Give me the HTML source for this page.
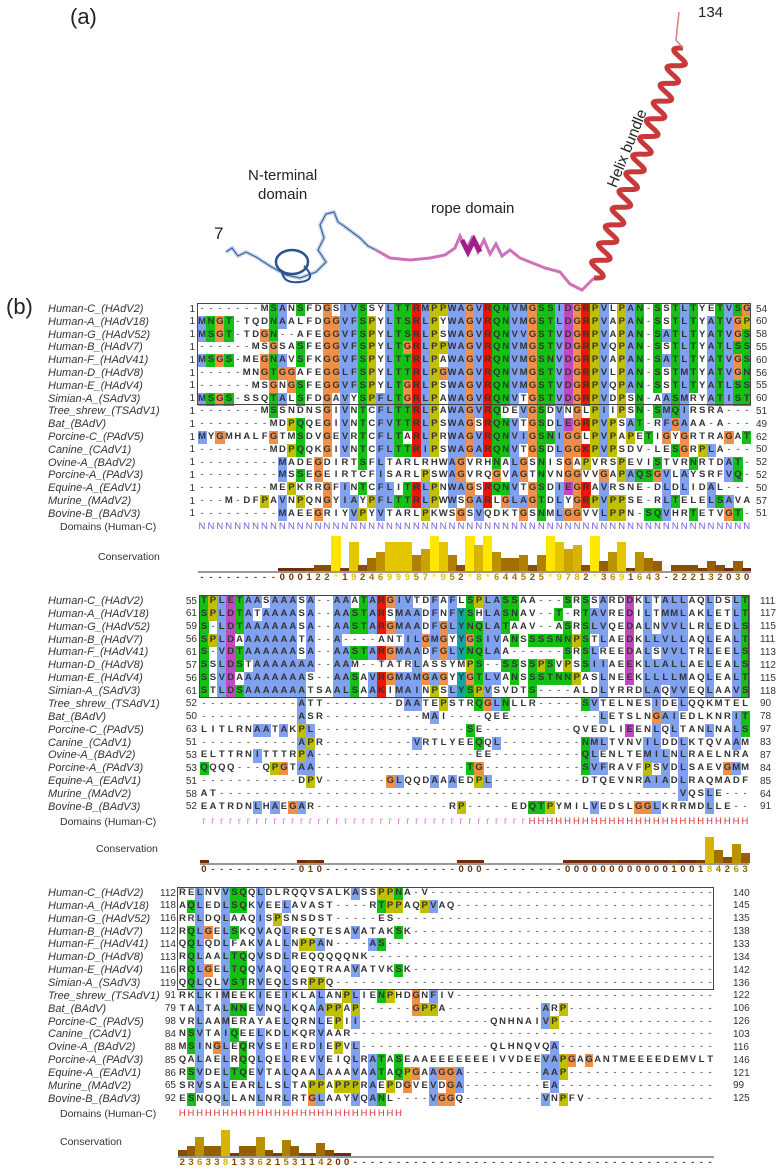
<!DOCTYPE html>
<html><head><meta charset="utf-8">
<style>
html,body{margin:0;padding:0;background:#fff;}
#root{position:relative;width:782px;height:1172px;overflow:hidden;font-family:"Liberation Sans",sans-serif;color:#333;}
.t{position:absolute;white-space:nowrap;}
.nm{font-style:italic;font-size:11px;line-height:12px;}
.num{font-size:10px;line-height:12px;}
.cell{position:absolute;text-align:center;font-size:9.5px;font-weight:bold;color:#333;}
.lbl{font-size:10.5px;}
</style></head><body>
<div id="root">
<div class="t" style="left:70px;top:4px;font-size:22px;color:#222">(a)</div>
<div class="t" style="left:6px;top:294px;font-size:22px;color:#222">(b)</div>
<svg id="struct" width="782" height="300" style="position:absolute;left:0;top:0">
<path d="M226,252 L232,248 L238,256 L246,252 L256,257 L270,266 L286,275 L300,278 L316,272 L326,262 L318,250 L324,238 L320,225 L326,214 L334,212 L338,222 L344,226 L352,232 L360,238 L368,246 L376,250" fill="none" stroke="#c8d6ea" stroke-width="4"/>
<path d="M226,252 L232,248 L238,256 L246,252 L256,257 L270,266 L286,275 L300,278 L316,272 L326,262 L318,250 L324,238 L320,225 L326,214 L334,212 L338,222 L344,226 L352,232 L360,238 L368,246 L376,250" fill="none" stroke="#3a64a0" stroke-width="1.2"/>
<ellipse cx="292" cy="262" rx="16" ry="12" fill="none" stroke="#2a5090" stroke-width="2.5"/>
<path d="M304,266 Q318,280 300,282 Q282,284 282,270" fill="none" stroke="#2a5090" stroke-width="2"/>
<path d="M376,250 L390,258 L410,260 L430,258 L445,255 L455,248 L460,236 L466,250 L472,238 L478,252 L484,240 L490,254 L496,244 L502,256 L510,250 L520,258 L530,262 L545,268 L560,272 L570,284 L582,290 L594,278" fill="none" stroke="#d070b8" stroke-width="3"/>
<path d="M462,240 L468,252 L474,240 L480,252" fill="none" stroke="#a0208a" stroke-width="5"/>
<path id="helix" fill="none" stroke="#c83a3a" stroke-width="5"/>
<path d="M683,48 L676,40 L679,12" fill="none" stroke="#d88080" stroke-width="1.5"/>
</svg>
<div class="t" style="left:214px;top:224px;font-size:17px;color:#222">7</div>
<div class="t" style="left:248px;top:166px;font-size:15px;color:#222;text-align:center;line-height:19px">N-terminal<br>domain</div>
<div class="t" style="left:431px;top:200px;font-size:15px;color:#222">rope domain</div>
<div class="t" style="left:586px;top:140px;font-size:15px;color:#222;transform:rotate(-68deg);transform-origin:50% 50%">Helix bundle</div>
<div class="t" style="left:698px;top:4px;font-size:15px;color:#222">134</div>
</div>
<script>
const names=["Human-C_(HAdV2)","Human-A_(HAdV18)","Human-G_(HAdV52)","Human-B_(HAdV7)","Human-F_(HAdV41)","Human-D_(HAdV8)","Human-E_(HAdV4)","Simian-A_(SAdV3)","Tree_shrew_(TSAdV1)","Bat_(BAdV)","Porcine-C_(PAdV5)","Canine_(CAdV1)","Ovine-A_(BAdV2)","Porcine-A_(PAdV3)","Equine-A_(EAdV1)","Murine_(MAdV2)","Bovine-B_(BAdV3)"];
const seq1=["-------MSANSFDGSIVSSYLTTRMPPWAGVRQNVMGSSIDGRPVLPAN-SSTLTYETVSG","MNGT-TQDNAALFDGGVFSPYLTSRLPYWAGVRQNVMGSTLDGRPVAPAN-SSTLTYATVGP","MSGT-TDGN--AFEGGVFSPYLTSRLPSWAGVRQNVVGSTVDGRPVAPAN-SATLTYATVGS","------MSGSASFEGGVFSPYLTGRLPPWAGVRQNVMGSTVDGRPVQPAN-SSTLTYATLSS","MSGS-MEGNAVSFKGGVFSPYLTTRLPAWAGVRQNVMGSNVDGRPVAPAN-SATLTYATVGS","-----MNGTGGAFEGGLFSPYLTTRLPGWAGVRQNVMGSTVDGRPVLPAN-SSTMTYATVGN","------MSGNGSFEGGVFSPYLTGRLPSWAGVRQNVMGSTVDGRPVQPAN-SSTLTYATLSS","MSGS-SSQTALSFDGAVYSPFLTGRLPAWAGVRQNVTGSTVDGRPVDPSN-AASMRYATIST","-------MSSNDNSGIVNTCFLTTRLPAWAGVRQDEVGSDVNGLPIIPSN-SMQIRSRA---","--------MDPQQEGIVNTCFVTTRLPSWAGSRQNVTGSDLEGRPVPSAT-RFGAAA-A---","MYGMHALFGTMSDVGEVRTCFLTARLPRWAGVRQNVIGSNIGGLPVPAPETIGYGRTRAGAT","--------MDPQQKGIVNTCFLTTRIPSWAGARQNVTGSDLGGKPVPSDV-LESGRPLA---","---------MADEGDIRTSFLTARLRHWAGVRHNALGSNISGAPVRSPEVISTVRNRTDAT","---------MSSEGEIRTCFISARLPSWAGVRQGVAGTNVNGGVVGAPAQSGVLAYSRFVQ","--------MEPKRRGFINTCFLITRLPNWAGSRQNVTGSDIEGRAVRSNE-DLDLIDAL---","---M-DFPAVNPQNGYIAYPFLTTRLPWWSGARLGLAGTDLYGRPVPPSE-RLTELELSAVA","---------MAEEGRIYVPYVTARLPKWSGSVQDKTGSNMLGGVVLPPN-SQVHRTETVGT"];
const seq2=["TPLETAASAAASA--AAATARGIVTDFAFLSPLASSAA---SRSSARDDKLTALLAQLDSLT","SPLDTATAAAASA--AASTARSMAADFNFYSHLASNAV--T-RTAVREDILTMMLAKLETLT","S-LDTAAAAAASA--AASTARGMAADFGLYNQLATAAV--ASRSLVQEDALNVVLLRLEDLS","SPLDAAAAAAATA--A----ANTILGMGYYGSIVANSSSSNNPSTLAEDKLLVLLAQLEALT","S-VDTAAAAAASA--AASTARGMAADFGLYNQLAA------SRSLREEDALSVVLTRLEELS","SSLDSTAAAAAAA--AAM--TATRLASSYMPS--SSSSPSVPSSIIAEEKLLALLAELEALS","SSVDAAAAAAAAS--AASAVRGMAMGAGYYGTLVANSSSTNNPASLNEEKLLLLMAQLEALT","STLDSAAAAAAATSAALSAAKIMAINPSLYSPVSVDTS----ALDLYRRDLAQVVEQLAAVS","-----------ATT--------DAATEPSTRQGLNLLR-----SVTELNESIDELQQKMTELE","-----------ASR-----------MAI----QEE----------LETSLNGAIEDLKNRITALQ","LITLRNAATAKPL-----------------SE----------QVEDLIEENLQLTANLNALS","-----------APR----------VRTLYEEQQL---------NMLTVNVILDDLKTQVAAMQ","ELTTRNITTTRPA------------------EE----------QLENLTEMILNLRAELNRAT","QQQQ---QPGTAA-----------------TG-----------SVFRAVFPSVDLSAEVGMMR","-----------DPV-------GLQQDAAAEDPL----------DTQEVNRAIADLRAQMADFG","AT----------------------------------------------------VQSLE--","EATRDNLHAEGAR---------------RP-----EDQTPYMILVEDSLGGLKRRMDLLE"];
const seq3=["RELNVVSQQLDLRQQVSALKASSPPNA-V","AQLEDLSQKVEELAVAST----RTPPAQPVAQ","RRLDQLAAQISPSNSDST-----ES","RQLGELSKQVAQLREQTESAVATAKSK","QQLQDLFAKVALLNPPAN----AS","RQLAALTQQVSDLREQQQQQNK","RQLGELTQQVAQLQEQTRAAVATVKSK","QQLQLVSTRVEQLSRPPQ","RKLKIMEEKIEEIKLALANPLIENPHDGNFIV","TALTALNNEVNQLKQAAPPAP------GPPA-----------ARP","VRLAAMERAYAELQRNLEPII---------------QNHNAIVP","NSVTAIQEELKDLKQRVAAR","MSINGLEQRVSEIERDIEPVL---------------QLHNQVQA","QALAELRQQLQELREVVEIQLRATASEAAEEEEEEEIVVDEEVAPGAGANTMEEEEDEMVLT","RSVDELTQEVTALQAALAAAVAATAQPGAAGGA---------AAP","SRVSALEARLLSLTAPPAPPPRAEPDGVEVDGA---------EA","ESNQQLLANLNRLRTGLAAYVQANL----VGGQ---------VNPFV"];
const start1=[1,1,1,1,1,1,1,1,1,1,1,1,1,1,1,1,1];
const end1=[54,60,58,55,60,56,55,60,51,49,62,50,52,52,50,57,51];
const start2=[55,61,59,56,61,57,56,61,52,50,63,51,53,53,51,58,52];
const end2=[111,117,115,111,113,112,115,118,90,78,97,83,87,84,85,64,91];
const start3=[112,118,116,112,114,113,116,119,91,79,98,84,88,85,86,65,92];
const end3=[140,145,135,138,133,134,142,136,122,106,126,103,116,146,121,99,125];
const dom1="NNNNNNNNNNNNNNNNNNNNNNNNNNNNNNNNNNNNNNNNNNNNNNNNNNNNNNNNNNNNNN".split('');
const dom2="rrrrrrrrrrrrrrrrrrrrrrrrrrrrrrrrrrrrrHHHHHHHHHHHHHHHHHHHHHHHHH".split('');
const dom3="HHHHHHHHHHHHHHHHHHHHHHHHHH".split('');
const cons1="---------000122*1924699957*952*8*644525*9782*3691643-222132030".split('');
const cons2="0----------010---------------000---------000000000000100184263".split('');
const cons3="23633813362153114200------------------------------------------".split('');

const root=document.getElementById('root');
const N=62;
const blocks=[
 {seq:seq1,st:start1,en:end1,dom:dom1,cons:cons1,x0:197.5,cw:8.93,y0:303,rh:12.8,numR:195,endX:756,domY:521,labX:98,baseY:571,numY:572,domLabX:60},
 {seq:seq2,st:start2,en:end2,dom:dom2,cons:cons2,x0:199.5,cw:8.87,y0:595,rh:12.87,numR:197,endX:760,domY:816,labX:96,baseY:863,numY:864,domLabX:60},
 {seq:seq3,st:start3,en:end3,dom:dom3,cons:cons3,x0:178,cw:8.65,y0:887,rh:12.86,numR:176,endX:733,domY:1108,labX:60,baseY:1156,numY:1157,domLabX:60}
];
const colors={hyd:"#80a0f0",kr:"#f01505",nqst:"#15c015",ed:"#c048c0",hy:"#15a4a4",g:"#f09048",p:"#c0c000"};
function cls(c){if("AILMFWVC".includes(c))return"hyd";if("KR".includes(c))return"kr";if("NQST".includes(c))return"nqst";if("ED".includes(c))return"ed";if("HY".includes(c))return"hy";if(c==="G")return"g";if(c==="P")return"p";return null;}
function pad(s){s=s.slice(0,N);while(s.length<N)s+='-';return s;}
function consColor(v){const f=Math.min(v,11)/11;const r=Math.round(110+145*f),g=Math.round(45+185*f);return `rgb(${r},${g},0)`;}
function consVal(c){if(c==='*')return 11;if(c==='+')return 10;if(c==='-')return 0;return parseInt(c,10);}
function mk(tag,cls_,style,text){const e=document.createElement(tag);if(cls_)e.className=cls_;if(style)e.style.cssText=style;if(text!==undefined)e.textContent=text;root.appendChild(e);return e;}

blocks.forEach((b,bi)=>{
 const rows=b.seq.map(pad);
 const colCls=[];
 for(let j=0;j<N;j++){const cnt={};let ng=0;rows.forEach(r=>{const c=r[j];if(c!=='-'){ng++;const k=cls(c);if(k)cnt[k]=(cnt[k]||0)+1;}});colCls.push({cnt,ng});}
 rows.forEach((r,i)=>{
  const y=b.y0+i*b.rh;
  const n=mk('div','t nm',`left:48px;top:${y}px;`,names[i]);
  
  
  const sn=mk('div','t num',`left:${b.numR-24}px;width:24px;text-align:right;top:${y+0.5}px;`,String(b.st[i]));
  
  
  const en=mk('div','t num',`left:${b.endX}px;top:${y+0.5}px;`,String(b.en[i]));
  
  
  for(let j=0;j<N;j++){
   const c=r[j];const k=cls(c);let bg='';
   if(k){const cc=colCls[j];
    if(k==='g'||k==='p')bg=colors[k];
    else if(cc.ng>=4&&(cc.cnt[k]||0)/cc.ng>=0.5)bg=colors[k];}
   const e=mk('div','cell',`left:${b.x0+j*b.cw}px;top:${y}px;width:${b.cw+0.3}px;height:${b.rh+0.2}px;line-height:${b.rh}px;${bg?'background:'+bg+';':''}${c==='-'?'font-weight:normal;':''}`,c);
   
   
  }
 });
 const bx=mk('div','t',`left:${b.x0-1}px;top:${b.y0}px;width:${N*b.cw+1}px;height:${8*b.rh}px;border:1.3px solid #444;box-sizing:border-box;`);
 
 
 const dl=mk('div','t lbl',`left:${b.domLabX}px;top:${b.domY}px;`,'Domains (Human-C)');
 
 
 b.dom.forEach((d,j)=>{
  const col=d==='N'?'#7a5ae0':(d==='r'?'#e07ae0':'#dd3030');
  const e=mk('div','cell',`left:${b.x0+j*b.cw}px;top:${b.domY}px;width:${b.cw}px;line-height:12px;font-weight:normal;color:${col};font-size:${d==='r'?10:9.5}px;`,d);
  
  
 });
 const cl=mk('div','t lbl',`left:${b.labX}px;top:${b.baseY-20}px;`,'Conservation');
 
 
 const ax=mk('div','t',`left:${b.x0}px;top:${b.baseY}px;width:${N*b.cw}px;height:1.5px;background:#999;`);
 
 
 const unit=3.2;
 b.cons.forEach((c,j)=>{
  const v=consVal(c);
  if(v>0){
   const h=v*unit;
   const bar=mk('div','t',`left:${b.x0+j*b.cw}px;top:${b.baseY-h}px;width:${b.cw+0.3}px;height:${h}px;background:${consColor(v)};`);
   
   
  } else if(c==='0'){
   const bar=mk('div','t',`left:${b.x0+j*b.cw}px;top:${b.baseY-3}px;width:${b.cw+0.3}px;height:3px;background:#6e2d10;`);
   
   
  }
  const t=mk('div','cell',`left:${b.x0+j*b.cw}px;top:${b.numY}px;width:${b.cw}px;line-height:12px;color:${c==='-'?'#6e3a20':consColor(v)};`,c);
  
  
 });
});

(function(){
 const x1=594,y1=278,x2=683,y2=48;const dx=x2-x1,dy=y2-y1,L=Math.hypot(dx,dy);
 const ux=dx/L,uy=dy/L,px=-uy,py=ux;let d='';const turns=13;const steps=400;
 for(let i=0;i<=steps;i++){const t=i/steps;const a=Math.sin(t*turns*2*Math.PI)*8;
  const x=x1+dx*t+px*a,y=y1+dy*t+py*a;d+=(i?'L':'M')+x.toFixed(1)+','+y.toFixed(1);}
 document.getElementById('helix').setAttribute('d',d);
})();
</script>
</body></html>
